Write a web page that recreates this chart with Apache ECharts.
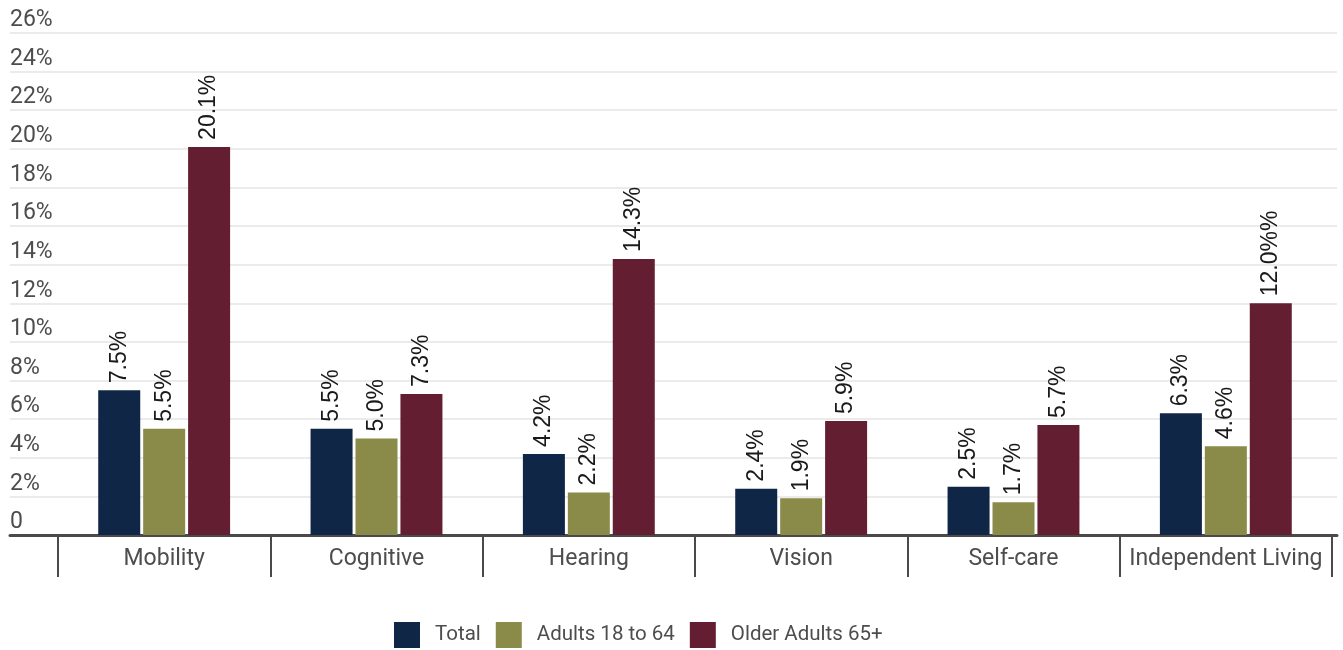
<!DOCTYPE html>
<html>
<head>
<meta charset="utf-8">
<script src="https://cdn.jsdelivr.net/npm/echarts@6/dist/echarts.min.js"></script>
<style>
  html, body { margin: 0; padding: 0; background: #fff; }
  #chart { width: 1343px; height: 650px; }
</style>
</head>
<body>
<div id="chart"></div>
<script>
// Disability prevalence by type and age group (percent)
const categories = ['Mobility', 'Cognitive', 'Hearing', 'Vision', 'Self-care', 'Independent Living'];
const seriesNames = ['Total', 'Adults 18 to 64', 'Older Adults 65+'];
const totalValues = [7.5, 5.5, 4.2, 2.4, 2.5, 6.3];
const adultValues = [5.5, 5.0, 2.2, 1.9, 1.7, 4.6];
const olderValues = [20.1, 7.3, 14.3, 5.9, 5.7, 12.0];
// Label text suffix per point for the 65+ series
const olderSuffix = ['%', '%', '%', '%', '%', '%%'];
const yMax = 26;
const yStep = 2;

const colors = ['#0f2646', '#8a8b48', '#631e32'];
const FONT = 'Roboto';

const chart = echarts.init(document.getElementById('chart'), null, { renderer: 'canvas' });

function barLabel(suffixes) {
  return {
    show: true,
    position: 'top',
    rotate: 90,
    align: 'left',
    verticalAlign: 'middle',
    distance: 7,
    fontFamily: 'Liberation Sans',
    fontSize: 23,
    color: '#1a1a1a',
    formatter: p => p.value.toFixed(1) + (suffixes ? suffixes[p.dataIndex] : '%')
  };
}

const plotTop = 33, plotBottom = 115;

chart.setOption({
  animation: false,
  color: colors,
  textStyle: { fontFamily: FONT },
  grid: [
    // background grid: gridlines, y labels and the base line
    { left: 10, right: 6, top: plotTop, bottom: plotBottom, containLabel: false },
    // bar grid
    { left: 58, right: 11, top: plotTop, bottom: plotBottom, containLabel: false }
  ],
  legend: {
    data: seriesNames,
    bottom: 2,
    left: 394,
    padding: 0,
    icon: 'rect',
    itemWidth: 26,
    itemHeight: 26,
    itemGap: 15,
    textStyle: { fontFamily: FONT, fontSize: 20.5, color: '#4d4d4d', padding: [0, 0, 0, 10] }
  },
  xAxis: [
    {
      gridIndex: 0, type: 'value', min: 0, max: 1,
      axisLine: { show: true, onZero: false, lineStyle: { color: '#4a4a4a', width: 3 } },
      axisTick: { show: false }, axisLabel: { show: false }, splitLine: { show: false }
    },
    {
      gridIndex: 1, type: 'category', data: categories,
      axisLine: { show: false },
      axisTick: { show: true, interval: 0, length: 42, lineStyle: { color: '#4a4a4a', width: 2 } },
      axisLabel: { interval: 0, fontFamily: FONT, fontSize: 23, color: '#4d4d4d', margin: 13 },
      splitLine: { show: false }
    }
  ],
  yAxis: [
    {
      gridIndex: 0, type: 'value', min: 0, max: yMax, interval: yStep,
      axisLine: { show: false }, axisTick: { show: false },
      splitLine: { show: true, lineStyle: { color: '#ebebeb', width: 2 } },
      axisLabel: {
        inside: true, margin: 0, align: 'left', verticalAlign: 'bottom',
        padding: [0, 0, 1, 0],
        fontFamily: FONT, fontSize: 23, color: '#4d4d4d',
        formatter: v => v === 0 ? '0' : v + '%'
      }
    },
    {
      gridIndex: 1, type: 'value', min: 0, max: yMax, interval: yStep,
      axisLine: { show: false }, axisTick: { show: false },
      splitLine: { show: false }, axisLabel: { show: false }
    }
  ],
  series: [
    { name: seriesNames[0], type: 'bar', xAxisIndex: 1, yAxisIndex: 1, data: totalValues,
      barWidth: 42, barGap: '7%', label: barLabel() },
    { name: seriesNames[1], type: 'bar', xAxisIndex: 1, yAxisIndex: 1, data: adultValues,
      barWidth: 42, barGap: '7%', label: barLabel() },
    { name: seriesNames[2], type: 'bar', xAxisIndex: 1, yAxisIndex: 1, data: olderValues,
      barWidth: 42, barGap: '7%', label: barLabel(olderSuffix) }
  ]
});
</script>
</body>
</html>
